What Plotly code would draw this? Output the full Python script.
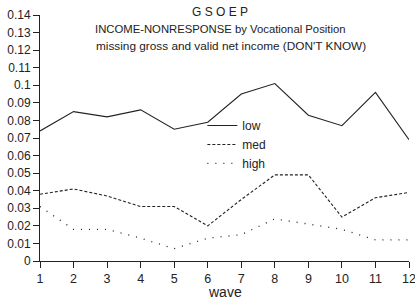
import plotly.graph_objects as go

waves = list(range(1, 13))
low = [0.074, 0.085, 0.082, 0.086, 0.075, 0.079, 0.095, 0.101, 0.083, 0.077, 0.096, 0.069]
med = [0.038, 0.041, 0.037, 0.031, 0.031, 0.020, 0.035, 0.049, 0.049, 0.025, 0.036, 0.039]
high = [0.031, 0.018, 0.018, 0.013, 0.007, 0.013, 0.015, 0.024, 0.021, 0.018, 0.012, 0.012]
y_ticks = [0, 0.01, 0.02, 0.03, 0.04, 0.05, 0.06, 0.07, 0.08, 0.09, 0.1, 0.11, 0.12, 0.13, 0.14]
y_labels = ["0", "0.01", "0.02", "0.03", "0.04", "0.05", "0.06", "0.07", "0.08", "0.09", "0.1", "0.11", "0.12", "0.13", "0.14"]

FONT = "Liberation Sans, Arial, sans-serif"
col = "#222222"

fig = go.Figure()
fig.add_trace(go.Scatter(x=waves, y=low, mode="lines", name="low",
                         line=dict(color=col, width=1.1)))
fig.add_trace(go.Scatter(x=waves, y=med, mode="lines", name="med",
                         line=dict(color=col, width=1.1, dash="3px,2px")))
fig.add_trace(go.Scatter(x=waves, y=high, mode="lines", name="high",
                         line=dict(color=col, width=1.3, dash="1px,7px")))

titles = [("G S O E P", 12, 220, 12), ("INCOME-NONRESPONSE by Vocational Position", 29, 220, 11.3),
          ("missing gross and valid net income (DON'T KNOW)", 46, 231, 11.8),
          ("wave", 292, 225, 14)]
ann = []
for t, ypx, xpx, fs in titles:
    ann.append(dict(text=t, x=(xpx - 40) / 369, y=(261 - ypx) / 246, xref="paper", yref="paper",
                    showarrow=False, xanchor="center", yanchor="middle", font=dict(size=fs)))

fig.update_layout(
    width=415, height=301,
    margin=dict(l=40, r=6, t=15, b=40, autoexpand=False),
    paper_bgcolor="white", plot_bgcolor="white",
    font=dict(family=FONT, size=12, color=col),
    showlegend=True,
    legend=dict(x=0.44, y=0.61, xanchor="left", yanchor="top",
                bgcolor="rgba(0,0,0,0)", font=dict(size=12),
                tracegroupgap=0, itemwidth=30),
    xaxis=dict(range=[1, 12], tickvals=waves, showline=True, linecolor=col, linewidth=1,
               ticks="outside", ticklen=6, tickcolor=col, showgrid=False, zeroline=False,
               tickfont=dict(size=12.5), ticklabeloverflow="allow"),
    yaxis=dict(range=[0, 0.14], tickvals=y_ticks, ticktext=y_labels, showline=True,
               linecolor=col, linewidth=1, ticks="outside", ticklen=6, tickcolor=col,
               showgrid=False, zeroline=False, tickfont=dict(size=12), ticklabeloverflow="allow"),
    annotations=ann,
)

fig.write_html("out.html", config={"displayModeBar": False},
               post_script="document.body.style.margin='0';document.body.style.padding='0';")
